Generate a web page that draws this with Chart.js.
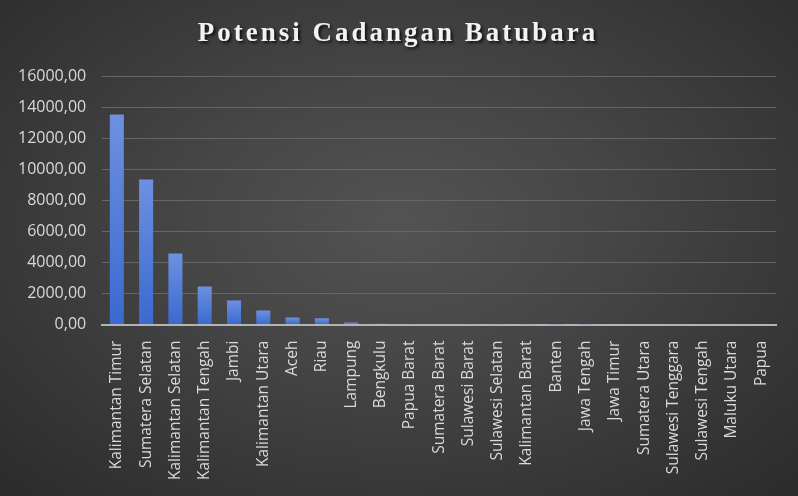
<!DOCTYPE html>
<html><head><meta charset="utf-8">
<script src="https://cdn.jsdelivr.net/npm/chart.js@4/dist/chart.umd.min.js"></script>
<style>
html,body{margin:0;padding:0;}
body{width:798px;height:496px;overflow:hidden;background:radial-gradient(ellipse 70% 75% at 50% 45%, #535353 0%, #454545 40%, #2c2c2c 100%);}
#wrap{position:relative;width:798px;height:496px;}
</style></head>
<body><div id="wrap"><canvas id="c" width="798" height="496"></canvas></div>
<script>
const titleText = "Potensi Cadangan Batubara";
const categories = ["Kalimantan Timur","Sumatera Selatan","Kalimantan Selatan","Kalimantan Tengah","Jambi","Kalimantan Utara","Aceh","Riau","Lampung","Bengkulu","Papua Barat","Sumatera Barat","Sulawesi Barat","Sulawesi Selatan","Kalimantan Barat","Banten","Jawa Tengah","Jawa Timur","Sumatera Utara","Sulawesi Tenggara","Sulawesi Tengah","Maluku Utara","Papua"];
const reserves = [13550, 9350, 4580, 2450, 1550, 900, 450, 400, 130, 60, 20, 30, 15, 20, 25, 5, 1, 0, 0, 0, 0, 0, 0];
const yTicks = [0, 2000, 4000, 6000, 8000, 10000, 12000, 14000, 16000];

function barFill(ctx){
  const chart = ctx.chart;
  const ys = chart.scales && chart.scales.y;
  if(!ys || ctx.type !== 'data') return '#4a78d6';
  const v = ctx.raw || 0;
  const top = ys.getPixelForValue(v), base = ys.getPixelForValue(0);
  if(!isFinite(top) || base - top < 1) return '#4a78d6';
  const g = chart.ctx.createLinearGradient(0, top, 0, base);
  g.addColorStop(0, '#6d91e0');
  g.addColorStop(1, '#3a69cf');
  return g;
}

const titleStyle = {
  id:'titleStyle',
  beforeDraw(chart){
    const tb = chart.titleBlock;
    if(tb && !tb._patched){
      const orig = tb.draw;
      tb.draw = function(){
        const c = this.ctx;
        c.save();
        c.translate(9, 0);
        c.letterSpacing = '3px';
        c.shadowColor = 'rgba(0,0,0,0.75)';
        c.shadowOffsetX = 2; c.shadowOffsetY = 2; c.shadowBlur = 3;
        orig.apply(this, arguments);
        c.restore();
      };
      tb._patched = true;
    }
  }
};

new Chart(document.getElementById('c'), {
  type:'bar',
  data:{labels:categories, datasets:[{label:'Cadangan', data:reserves, backgroundColor:barFill, barPercentage:0.48, categoryPercentage:1}]},
  options:{
    responsive:false, animation:false, devicePixelRatio:1,
    layout:{padding:{left:2,right:22,top:4,bottom:8}},
    plugins:{
      legend:{display:false}, tooltip:{enabled:false},
      title:{display:true, text:titleText, color:'#f2f2f2', font:{family:'"Liberation Serif", serif', size:27, weight:'bold'}, padding:{top:14,bottom:26}}
    },
    scales:{
      x:{
        grid:{display:false},
        border:{display:true, color:'#b4b4b4', width:2},
        ticks:{color:'#d9d9d9', font:{family:'"Open Sans", sans-serif', size:15.5}, maxRotation:90, minRotation:90, autoSkip:false, padding:8}
      },
      y:{
        min:0, max:16000,
        afterBuildTicks(axis){ axis.ticks = yTicks.map(v=>({value:v})); },
        grid:{color:'#666666', lineWidth:1, drawTicks:false},
        border:{display:false},
        ticks:{color:'#d9d9d9', font:{family:'"Open Sans", sans-serif', size:16}, padding:16,
          callback:(v)=>Number(v).toFixed(2).replace('.', ',')}
      }
    }
  },
  plugins:[titleStyle]
});
</script></body></html>
